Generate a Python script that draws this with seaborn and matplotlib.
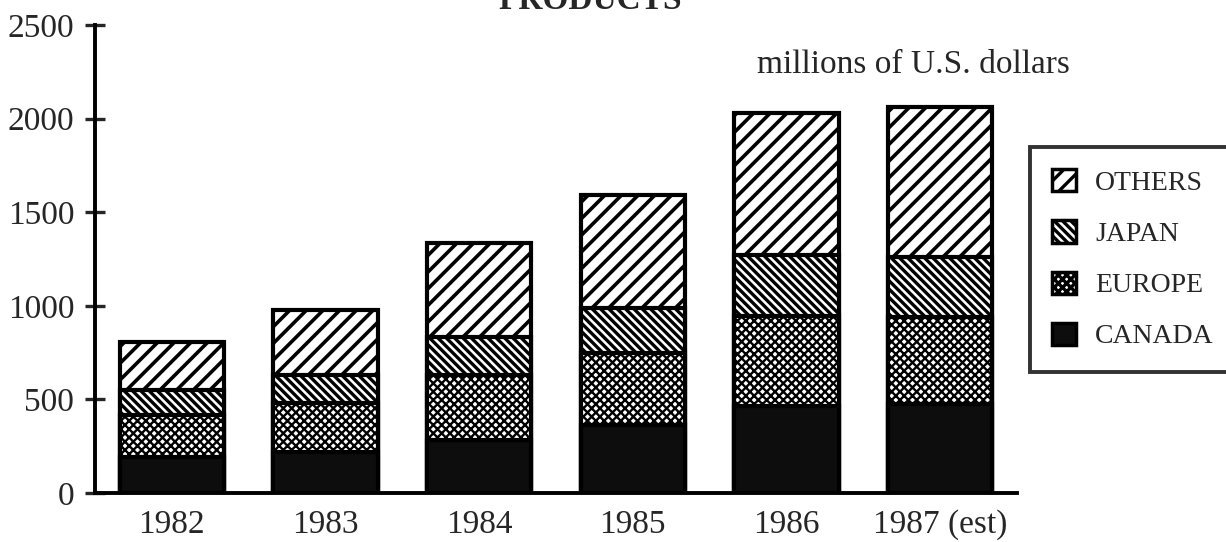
import matplotlib
matplotlib.use("Agg")
import pandas as pd
import matplotlib.pyplot as plt
from matplotlib.patches import Patch
import seaborn as sns

years = ["1982", "1983", "1984", "1985", "1986", "1987 (est)"]
canada = [190, 220, 285, 365, 465, 478]
europe = [227, 260, 345, 385, 478, 460]
japan = [133, 150, 205, 240, 330, 325]
others = [258, 345, 500, 600, 757, 799]
y_ticks = [0, 500, 1000, 1500, 2000, 2500]

sns.set_theme(style="white")
plt.rcParams["font.family"] = ["Liberation Serif", "DejaVu Serif"]
plt.rcParams["hatch.linewidth"] = 2.4

df = pd.DataFrame({"year": years, "CANADA": canada, "EUROPE": europe,
                   "JAPAN": japan, "OTHERS": others})
order = ["CANADA", "EUROPE", "JAPAN", "OTHERS"]
cum = df[order].cumsum(axis=1)
cum["year"] = df["year"]

styles = {
    "OTHERS": dict(color="white", hatch="//", hlw=2.6),
    "JAPAN": dict(color="white", hatch="\\\\\\\\", hlw=2.4),
    "EUROPE": dict(color="white", hatch="xxxx", hlw=1.7),
    "CANADA": dict(color="#0d0d0d", hatch=None, hlw=2.4),
}

fig = plt.figure(figsize=(12.26, 5.42), dpi=100)
ax = fig.add_axes([95 / 1226, 1 - 493 / 542, (1017 - 95) / 1226, (493 - 25) / 542])

# draw cumulative bars from the top down so each covers the one above
for col in order[::-1]:
    st = styles[col]
    n0 = len(ax.patches)
    sns.barplot(data=cum, x="year", y=col, color=st["color"], saturation=1,
                edgecolor="black", linewidth=3, hatch=st["hatch"],
                width=0.68, errorbar=None, ax=ax)
    for p in ax.patches[n0:]:
        if hasattr(p, "set_hatch_linewidth"):
            p.set_hatch_linewidth(st["hlw"])

ax.set_xlim(-0.5, len(years) - 0.5)
ax.set_ylim(0, 2500)
ax.set_yticks(y_ticks)
ax.set_xlabel("")
ax.set_ylabel("")
ax.set_xticks(range(len(years)))
ax.set_xticklabels(years)
ax.set_xticks([i - 0.5 for i in range(len(years) + 1)], minor=True)
ax.tick_params(axis="x", which="major", length=0, pad=12, labelsize=24)
ax.tick_params(axis="x", which="minor", direction="inout", length=14, width=2.4)
ax.tick_params(axis="y", direction="inout", length=14, width=2.4, pad=8,
               labelsize=24, left=True)
for s in ["top", "right"]:
    ax.spines[s].set_visible(False)
for s in ["left", "bottom"]:
    ax.spines[s].set_linewidth(2.8)
    ax.spines[s].set_color("black")
ax.set_facecolor("white")

fig.text(590 / 1226, 1 - 9 / 542, "PRODUCTS", ha="center", va="baseline",
         fontsize=24, fontweight="bold")
fig.text(757 / 1226, 1 - 73 / 542, "millions of U.S. dollars", ha="left",
         va="baseline", fontsize=24)

handles = []
for c in order[::-1]:
    h = Patch(facecolor=styles[c]["color"], edgecolor="black",
              hatch=styles[c]["hatch"], linewidth=2.5, label=c)
    handles.append(h)
leg = fig.legend(handles=handles, loc="upper left", mode="expand",
                 bbox_to_anchor=(1030 / 1226, 0, 0.3, 1 - 147 / 542),
                 borderaxespad=0, fontsize=20, frameon=True, fancybox=False,
                 handlelength=0.85, handleheight=0.85, handletextpad=0.7,
                 borderpad=0.8, labelspacing=0.88)
leg.get_frame().set_edgecolor("black")
leg.get_frame().set_linewidth(2.8)

fig.savefig("out.png", dpi=100, facecolor="white")
